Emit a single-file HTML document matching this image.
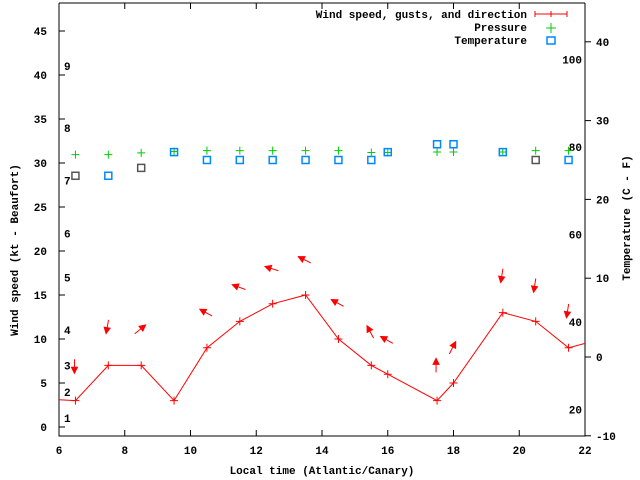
<!DOCTYPE html>
<html><head><meta charset="utf-8"><style>
html,body{margin:0;padding:0;background:#fff}
svg{display:block}
text{font-family:"Liberation Mono","DejaVu Sans Mono",monospace;font-size:11px;font-weight:bold;fill:#000}
</style></head><body>
<svg id="chart" width="640" height="480" viewBox="0 0 640 480" xmlns="http://www.w3.org/2000/svg">
<g id="axes"></g>
<g id="marks"></g>
<text x="18" y="250" transform="rotate(-90 18 250)" text-anchor="middle">Wind speed (kt - Beaufort)</text>
<text x="630" y="218" transform="rotate(-90 630 218)" text-anchor="middle">Temperature (C - F)</text>
<text x="322" y="474" text-anchor="middle">Local time (Atlantic/Canary)</text>
<g>
<text x="527" y="18" text-anchor="end">Wind speed, gusts, and direction</text>
<text x="527" y="31" text-anchor="end">Pressure</text>
<text x="527" y="44" text-anchor="end">Temperature</text>
<path d="M535 14H567M535 11V17M567 11V17M551 11V17" stroke="#f00" fill="none"/>
<path d="M551 23V33M546 28H556" stroke="#0c0" fill="none"/>
<rect x="547" y="37" width="8" height="7" stroke="#08f" stroke-width="1.5" fill="none"/>
</g>
</svg>
<script>
const times=[6.5,7.5,8.5,9.5,10.5,11.5,12.5,13.5,14.5,15.5,16,17.5,18,19.5,20.5,21.5];
const speeds=[3,7,7,3,9,12,14,15,10,7,6,3,5,13,12,9];
const gusts=[6.9,11.4,11.1,null,13,15.9,18,19,14.1,10.8,9.9,7,9,17.2,16.1,13.2];
const dirTo=[180,190,51,null,299,290,288,297,299,332,299,0,27,189,189,189];
const pTimes=[6.5,7.5,8.5,9.5,10.5,11.5,12.5,13.5,14.5,15.5,16,17.5,18,19.5,20.5,21.5];
const pressure=[30.95,30.95,31.15,31.3,31.4,31.4,31.4,31.4,31.4,31.2,31.2,31.25,31.25,31.25,31.4,31.4];
const tTimes=[6.5,7.5,8.5,9.5,10.5,11.5,12.5,13.5,14.5,15.5,16,17.5,18,19.5,20.5,21.5];
const tempC=[23,23,24,26,25,25,25,25,25,25,26,27,27,26,25,25];
const tempGray=[true,false,true,false,false,false,false,false,false,false,false,false,false,false,true,false];
const xTicks=[6,8,10,12,14,16,18,20,22];
const yTicks=[0,5,10,15,20,25,30,35,40,45];
const y2Ticks=[-10,0,10,20,30,40];
const beaufort=[[1,1],[2,4],[3,7],[4,11],[5,17],[6,22],[7,28],[8,34],[9,41]];
const fLabels=[20,40,60,80,100];

const L=59,R=585,T=3,B=436;
const x=t=>L+(t-6)*(R-L)/16;
const y=v=>427-v*8.8;
const y2=c=>357-c*7.88;
const NS='http://www.w3.org/2000/svg';
function mk(tag,attrs,parent){const e=document.createElementNS(NS,tag);for(const k in attrs)e.setAttribute(k,attrs[k]);parent.appendChild(e);return e;}
const ax=document.getElementById('axes'),mg=document.getElementById('marks');

const frame=mk('path',{d:`M${L} ${T}V${B}H${R}V${T}M${L} ${T}H${R}`,stroke:'#000',fill:'none'},ax);


xTicks.forEach(t=>{
  const tk=mk('path',{d:`M${x(t)} ${B}v-6M${x(t)} ${T}v6`,stroke:'#000'},ax);
  
  
  const lb=mk('text',{x:x(t),y:B+18,'text-anchor':'middle'},ax);lb.textContent=t;
  
  
});
yTicks.forEach(v=>{
  const tk=mk('path',{d:`M${L} ${y(v)}h6`,stroke:'#000'},ax);
  
  
  const lb=mk('text',{x:47,y:y(v)+4,'text-anchor':'end'},ax);lb.textContent=v;
  
  
});
y2Ticks.forEach(v=>{
  const tk=mk('path',{d:`M${R} ${y2(v)}h6`,stroke:'#000'},ax);
  
  
  const lb=mk('text',{x:596,y:y2(v)+4},ax);lb.textContent=v;
  
  
});
beaufort.forEach(([n,kt])=>{
  const lb=mk('text',{x:64,y:y(kt)+4},ax);lb.textContent=n;
  
  
});
fLabels.forEach(f=>{
  const c=(f-32)*5/9;
  const lb=mk('text',{x:582,y:y2(c)+4,'text-anchor':'end'},ax);lb.textContent=f;
  
  
});

let d=`M${L} ${y(3.1)}`;
times.forEach((t,i)=>{d+=`L${x(t)} ${y(speeds[i])}`;});
d+=`L${R} ${y(9.5)}`;
const ln=mk('path',{d,stroke:'#f00',fill:'none'},mg);


times.forEach((t,i)=>{
  const px=x(t),py=y(speeds[i]);
  const p=mk('path',{d:`M${px-4} ${py}h8M${px} ${py-4}v8`,stroke:'#f00'},mg);
  
  
  if(gusts[i]==null)return;
  const a=dirTo[i]*Math.PI/180,dx=Math.sin(a),dy=-Math.cos(a);
  const cx=x(t)-1,cy=y(gusts[i]),h=7;
  const hx=cx+dx*h,hy=cy+dy*h,tx=cx-dx*h,ty=cy-dy*h;
  const px2=-dy,py2=dx;
  const g=mk('g',{},mg);
  
  
  mk('path',{d:`M${tx} ${ty}L${hx} ${hy}`,stroke:'#f00'},g);
  mk('path',{d:`M${hx} ${hy}L${hx-dx*6+px2*3} ${hy-dy*6+py2*3}L${hx-dx*6-px2*3} ${hy-dy*6-py2*3}Z`,fill:'#f00',stroke:'#f00'},g);
});
pTimes.forEach((t,i)=>{
  const px=x(t),py=y(pressure[i]);
  const p=mk('path',{d:`M${px-4} ${py}h8M${px} ${py-4}v8`,stroke:'#0c0'},mg);
  
  
});
tTimes.forEach((t,i)=>{
  const px=x(t),py=y2(tempC[i]);
  const r=mk('rect',{x:px-3.5,y:py-3.5,width:7,height:7,stroke:tempGray[i]?'#555':'#08f',fill:'none','stroke-width':1.5},mg);
  
  
});
</script>
</body></html>
